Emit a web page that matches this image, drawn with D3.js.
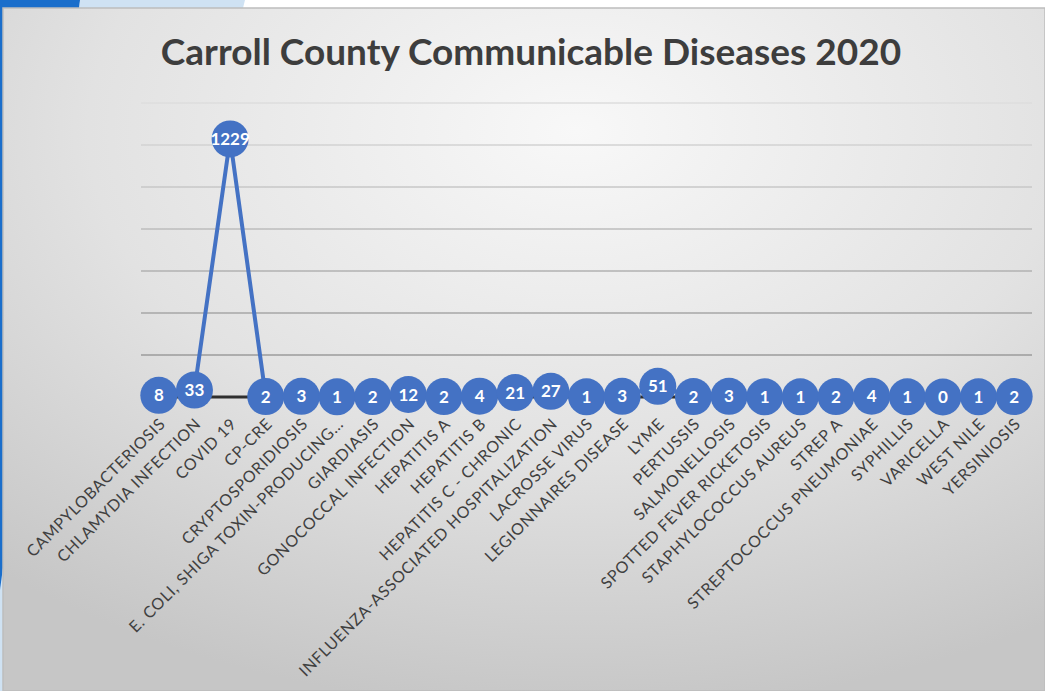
<!DOCTYPE html>
<html>
<head>
<meta charset="utf-8">
<script src="https://cdn.jsdelivr.net/npm/d3@7"></script>
<style>
  html, body { margin: 0; padding: 0; background: #fff; }
  svg { display: block; }
</style>
</head>
<body>
<div class="canvas"></div>
<script>
/* ----------- DATA ----------- */
const categories = [
  'CAMPYLOBACTERIOSIS', 'CHLAMYDIA INFECTION', 'COVID 19', 'CP-CRE', 'CRYPTOSPORIDIOSIS',
  'E. COLI, SHIGA TOXIN-PRODUCING…', 'GIARDIASIS', 'GONOCOCCAL INFECTION', 'HEPATITIS A',
  'HEPATITIS B', 'HEPATITIS C - CHRONIC', 'INFLUENZA-ASSOCIATED HOSPITALIZATION',
  'LACROSSE VIRUS', 'LEGIONNAIRES DISEASE', 'LYME', 'PERTUSSIS', 'SALMONELLOSIS',
  'SPOTTED FEVER RICKETOSIS', 'STAPHYLOCOCCUS AUREUS', 'STREP A', 'STREPTOCOCCUS PNEUMONIAE',
  'SYPHILLIS', 'VARICELLA', 'WEST NILE', 'YERSINIOSIS'
];
const cases = [8, 33, 1229, 2, 3, 1, 2, 12, 2, 4, 21, 27, 1, 3, 51, 2, 3, 1, 1, 2, 4, 1, 0, 1, 2];
const gridTicks = [200, 400, 600, 800, 1000, 1200, 1400];

const data = categories.map((name, i) => ({ name, value: cases[i] }));

/* ----------- CONTAINER ----------- */
const width = 1045, height = 691;
const svg = d3.select('.canvas')
    .append('svg')
    .attr('width', width)
    .attr('height', height);

const defs = svg.append('defs');

// chart area background: soft radial gradient, light at top centre
const bg = defs.append('radialGradient')
    .attr('id', 'bg')
    .attr('cx', '0.55').attr('cy', '0.18').attr('r', '0.85');
bg.append('stop').attr('offset', '0%').attr('stop-color', '#f8f8f8');
bg.append('stop').attr('offset', '55%').attr('stop-color', '#e2e2e2');
bg.append('stop').attr('offset', '100%').attr('stop-color', '#c6c6c6');

// gridlines get darker towards the bottom
const gridGrad = defs.append('linearGradient')
    .attr('id', 'gridGrad')
    .attr('gradientUnits', 'userSpaceOnUse')
    .attr('x1', 0).attr('y1', 100).attr('x2', 0).attr('y2', 360);
gridGrad.append('stop').attr('offset', '0%').attr('stop-color', '#dedede');
gridGrad.append('stop').attr('offset', '100%').attr('stop-color', '#9a9a9a');

// slide decoration behind the chart
svg.append('polygon')
    .attr('points', '80,0 245,0 0,1000 0,590')
    .attr('fill', '#cfe2f3');
svg.append('polygon')
    .attr('points', '0,0 80,0 0,590')
    .attr('fill', '#1a6ecb');

svg.append('rect')
    .attr('x', 3).attr('y', 8)
    .attr('width', width - 3).attr('height', height - 8)
    .attr('fill', 'url(#bg)')
    .attr('stroke', '#bdbdbd')
    .attr('stroke-width', 1.5);

/* ----------- TITLE ----------- */
svg.append('text')
    .attr('x', 531)
    .attr('y', 65)
    .attr('text-anchor', 'middle')
    .attr('font-family', 'Lato, "Open Sans", sans-serif')
    .attr('font-weight', 'bold')
    .attr('font-size', 37)
    .attr('fill', '#3d3d3d')
    .text('Carroll County Communicable Diseases 2020');

/* ----------- SCALES ----------- */
const plot = { left: 141, right: 1032, top: 103, bottom: 397 };

const x = d3.scalePoint()
    .domain(categories)
    .range([plot.left, plot.right])
    .padding(0.5);

const y = d3.scaleLinear()
    .domain([0, 1400])
    .range([plot.bottom, plot.top]);

/* ----------- GRIDLINES ----------- */
svg.append('g')
    .selectAll('line')
    .data(gridTicks)
    .enter()
    .append('line')
    .attr('x1', plot.left).attr('x2', plot.right)
    .attr('y1', d => y(d)).attr('y2', d => y(d))
    .attr('stroke', 'url(#gridGrad)')
    .attr('stroke-width', 1.5);

/* ----------- X AXIS ----------- */
const xAxis = d3.axisBottom(x).tickSize(0).tickPadding(0);
const xAxisGroup = svg.append('g')
    .attr('transform', `translate(0,${y(0)})`)
    .call(xAxis);

xAxisGroup.select('.domain')
    .attr('stroke', '#2f2f2f')
    .attr('stroke-width', 3)
    .attr('d', `M${plot.left},0H${plot.right}`);

xAxisGroup.selectAll('text')
    .attr('font-family', 'Lato, "Open Sans", sans-serif')
    .attr('font-size', 16)
    .attr('letter-spacing', 0.7)
    .attr('fill', '#404040')
    .attr('text-anchor', 'end')
    .attr('y', 0)
    .attr('dy', '0.35em')
    .attr('transform', 'translate(3,24) rotate(-45)');

/* ----------- LINE & MARKERS ----------- */
const line = d3.line()
    .x(d => x(d.name))
    .y(d => y(d.value));

svg.append('path')
    .datum(data)
    .attr('d', line)
    .attr('fill', 'none')
    .attr('stroke', '#4472c4')
    .attr('stroke-width', 4);

const points = svg.append('g')
    .selectAll('g')
    .data(data)
    .enter()
    .append('g')
    .attr('transform', d => `translate(${x(d.name)},${y(d.value)})`);

points.append('circle')
    .attr('r', 18.5)
    .attr('fill', '#4472c4');

points.append('text')
    .attr('text-anchor', 'middle')
    .attr('dy', '0.36em')
    .attr('font-family', 'Lato, "Open Sans", sans-serif')
    .attr('font-weight', 'bold')
    .attr('font-size', 17)
    .attr('fill', '#ffffff')
    .text(d => d.value);
</script>
</body>
</html>
